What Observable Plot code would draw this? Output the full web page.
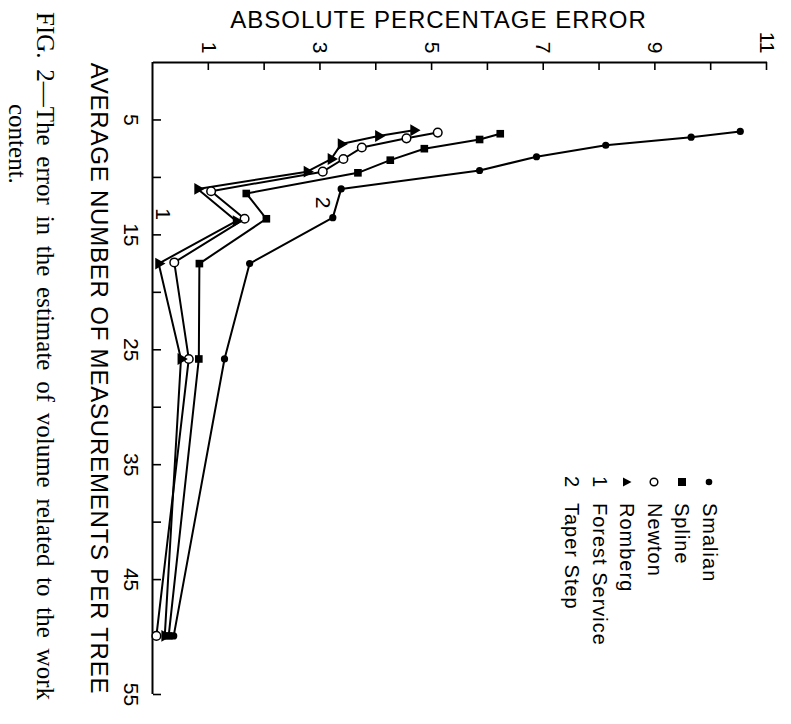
<!DOCTYPE html>
<html>
<head>
<meta charset="utf-8">
<script src="https://cdn.jsdelivr.net/npm/d3@7"></script>
<script src="https://cdn.jsdelivr.net/npm/@observablehq/plot@0.6"></script>
<style>
  html, body { margin: 0; padding: 0; background: #fff; overflow: hidden; }
  #page {
    position: absolute; left: 0; top: 0;
    width: 724px; height: 791px;
    transform-origin: 0 0;
    transform: translate(791px, 0) rotate(90deg);
    background: #fff;
  }
  #legend {
    position: absolute; left: 471px; top: 68px;
    font-family: "Liberation Sans", Arial, sans-serif; font-size: 20px; letter-spacing: 1px;
    color: #000;
  }
  .row { height: 27.5px; display: flex; align-items: center; }
  .sym { width: 22px; display: flex; justify-content: center; align-items: center; }
  .lab { margin-left: 10px; white-space: nowrap; }
  #caption {
    position: absolute; left: 0; top: 732px; width: 724px;
    font-family: "Liberation Serif", "Times New Roman", serif; font-size: 25px; line-height: 28px; color: #000;
  }
  #cap1 { margin-left: 12px; width: 688px; text-align: justify; text-align-last: justify; white-space: nowrap; }
  #cap2 { margin-left: 104px; }
</style>
</head>
<body>
<div id="page">
  <div id="chart"></div>
  <div id="legend"></div>
  <div id="caption"></div>
</div>
<script>
// ---- data (average number of measurements per tree, absolute percentage error) ----
const smalianMeasurements = [6.0, 6.5, 7.2, 8.2, 9.4, 11.0, 13.5, 17.5, 25.8, 49.9];
const smalianError        = [10.53, 9.65, 8.12, 6.88, 5.86, 3.38, 3.23, 1.74, 1.29, 0.38];
const splineMeasurements  = [6.2, 6.7, 7.5, 8.5, 9.6, 11.4, 13.6, 17.5, 25.8, 49.9];
const splineError         = [6.23, 5.86, 4.87, 4.26, 3.68, 1.68, 2.04, 0.84, 0.83, 0.29];
const newtonMeasurements  = [6.1, 6.6, 7.4, 8.4, 9.5, 11.2, 13.6, 17.4, 25.8, 49.9];
const newtonError         = [5.11, 4.55, 3.75, 3.42, 3.05, 1.05, 1.65, 0.39, 0.65, 0.07];
const rombergMeasurements = [5.9, 6.4, 7.1, 8.4, 9.5, 11.0, 13.8, 17.5, 25.8, 49.9];
const rombergError        = [4.68, 4.05, 3.38, 3.20, 2.77, 0.81, 1.50, 0.11, 0.51, 0.22];

// single-point methods drawn as numerals
const pointLabels       = ["1", "2"];
const pointNames        = ["Forest Service", "Taper Step"];
const pointMeasurements = [13.2, 12.2];
const pointError        = [0.18, 3.05];

const methods = ["Smalian", "Spline", "Newton", "Romberg"];
const xTicks = [5, 10, 15, 20, 25, 30, 35, 40, 45, 50, 55];
const xTickLabels = [5, 15, 25, 35, 45, 55];
const yTicks = [1, 2, 3, 4, 5, 6, 7, 8, 9, 10, 11];
const yTickLabels = [1, 3, 5, 7, 9, 11];
const xTitle = "AVERAGE NUMBER OF MEASUREMENTS PER TREE";
const yTitle = "ABSOLUTE PERCENTAGE ERROR";
const captionLine1 = "FIG. 2—The error in the estimate of volume related to the work";
const captionLine2 = "content.";

// ---- build table ----
const seriesM = [smalianMeasurements, splineMeasurements, newtonMeasurements, rombergMeasurements];
const seriesE = [smalianError, splineError, newtonError, rombergError];
const rows = methods.flatMap((method, k) =>
  seriesM[k].map((m, i) => ({method, m, e: seriesE[k][i]})));
const pts = pointLabels.map((label, i) => ({label, name: pointNames[i], m: pointMeasurements[i], e: pointError[i]}));
const of = (name) => rows.filter(d => d.method === name);

const font = "Liberation Sans, Arial, sans-serif";

const chart = Plot.plot({
  width: 724,
  height: 710,
  marginLeft: 62,
  marginRight: 30,
  marginTop: 24,
  marginBottom: 72,
  x: {domain: [0, 55], axis: null, label: null},
  y: {domain: [0, 11], axis: null, label: null},
  style: {fontFamily: font, background: "white", color: "black", overflow: "visible"},
  marks: [
    // inward ticks
    Plot.axisX({ticks: xTicks, tickSize: 8, dy: -8, tickFormat: () => "", strokeWidth: 1.6, label: null}),
    Plot.axisY({ticks: yTicks, tickSize: 8, dx: 8, tickFormat: () => "", strokeWidth: 1.6, label: null}),
    // tick labels
    Plot.axisX({ticks: xTickLabels, tickSize: 0, tickPadding: 14, fontSize: 21, label: null}),
    Plot.axisY({ticks: yTickLabels, tickSize: 0, tickPadding: 9, fontSize: 21, label: null}),
    // axis lines
    Plot.ruleY([0], {strokeWidth: 2}),
    Plot.ruleX([0], {strokeWidth: 2}),
    // titles
    Plot.text([xTitle], {frameAnchor: "bottom", dy: 54, fontSize: 24, lineAnchor: "middle", textAnchor: "middle", text: d => d}),
    Plot.text([yTitle], {frameAnchor: "left", dx: -42, dy: 21, rotate: -90, fontSize: 24, lineAnchor: "middle", textAnchor: "middle", text: d => d}),
    // lines
    Plot.line(rows, {x: "m", y: "e", z: "method", stroke: "black", strokeWidth: 2}),
    // markers
    Plot.dot(of("Smalian"), {x: "m", y: "e", r: 3.6, fill: "black", symbol: "circle"}),
    Plot.dot(of("Spline"), {x: "m", y: "e", r: 4.3, fill: "black", symbol: "square"}),
    Plot.dot(of("Newton"), {x: "m", y: "e", r: 4.3, fill: "white", stroke: "black", strokeWidth: 1.5, symbol: "circle"}),
    Plot.dot(of("Romberg"), {x: "m", y: "e", r: 4.4, fill: "black", symbol: "triangle"}),
    // single-point methods
    Plot.text(pts, {x: "m", y: "e", text: "label", fontSize: 21})
  ]
});
chart.querySelectorAll("text").forEach(t => {
  if (t.textContent === xTitle) t.setAttribute("letter-spacing", "0.8");
  if (t.textContent === yTitle) t.setAttribute("letter-spacing", "1");
});
document.getElementById("chart").appendChild(chart);

// ---- legend ----
const legendSymbols = {
  "Smalian": '<circle cx="7" cy="7" r="3.3" fill="black"/>',
  "Spline": '<rect x="3" y="3" width="8" height="8" fill="black"/>',
  "Newton": '<circle cx="7" cy="7" r="3.8" fill="white" stroke="black" stroke-width="1.5"/>',
  "Romberg": '<polygon points="7,2.5 11.5,11 2.5,11" fill="black"/>'
};
const legend = document.getElementById("legend");
methods.forEach(m => {
  const row = document.createElement("div");
  row.className = "row";
  row.innerHTML = `<span class="sym"><svg width="14" height="14">${legendSymbols[m]}</svg></span><span class="lab">${m}</span>`;
  legend.appendChild(row);
});
pts.forEach(p => {
  const row = document.createElement("div");
  row.className = "row";
  row.innerHTML = `<span class="sym">${p.label}</span><span class="lab">${p.name}</span>`;
  legend.appendChild(row);
});

// ---- caption ----
const cap = document.getElementById("caption");
cap.innerHTML = `<div id="cap1">${captionLine1}</div><div id="cap2">${captionLine2}</div>`;
</script>
</body>
</html>
